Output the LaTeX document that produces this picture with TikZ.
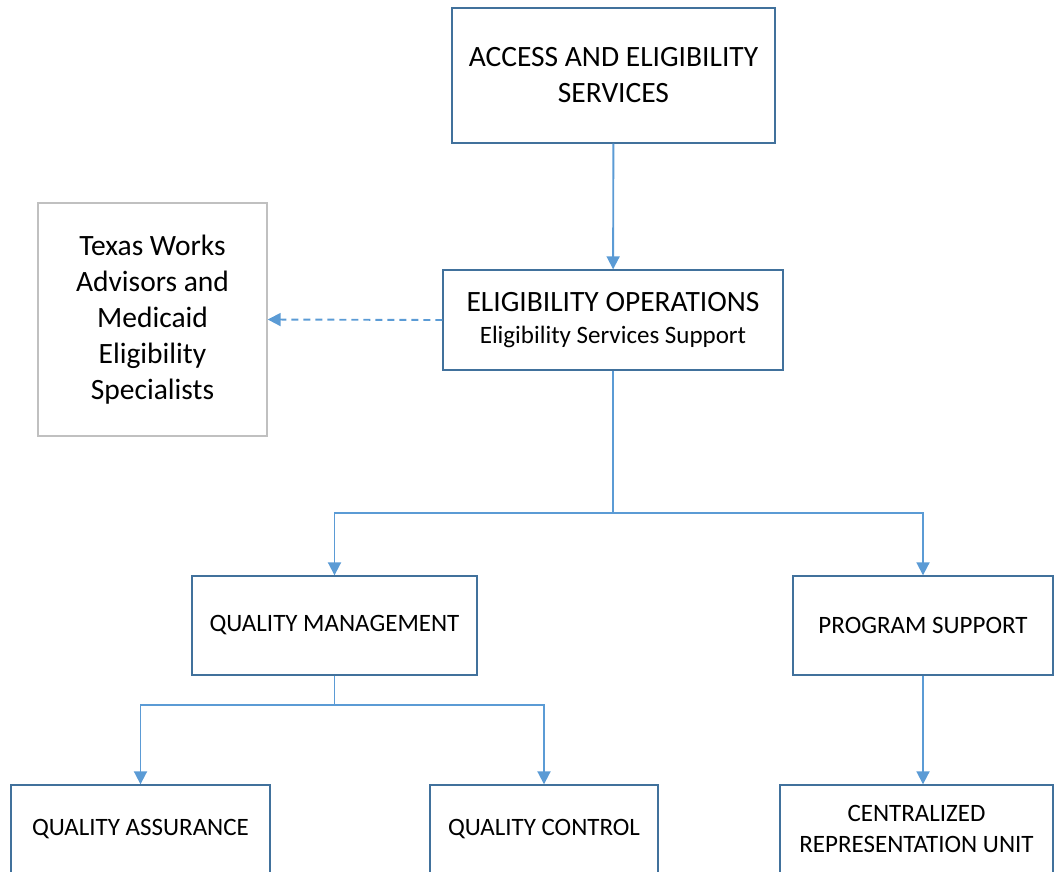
\documentclass[tikz,border=0pt]{standalone}
\usepackage{fontspec}
\setmainfont{Carlito}
\usetikzlibrary{arrows.meta,positioning}
\definecolor{boxline}{HTML}{41719C}
\definecolor{linkblue}{HTML}{5B9BD5}
\definecolor{softgray}{HTML}{C0C0C0}

\begin{document}
\begin{tikzpicture}[x=1pt,y=-1pt,
  unit/.style={draw=boxline,line width=1.4pt,align=center,inner sep=0pt},
  side/.style={draw=softgray,line width=1.4pt,align=center,inner sep=0pt},
  link/.style={draw=linkblue,line width=1.9pt,-{Triangle[length=13pt,width=13pt]}},
  big/.style={font=\fontsize{29.5}{36}\selectfont},
  small/.style={font=\fontsize{25}{31}\selectfont}]
  \useasboundingbox (0,0) rectangle (1056,871);
  \clip (0,0) rectangle (1056,871);

  \node[unit,big,minimum width=323pt,minimum height=135pt] (aes)  at (613.5,75.5) {ACCESS AND ELIGIBILITY\\SERVICES};
  \node[unit,big,minimum width=340pt,minimum height=100pt] (ops)  at (613,320)
    {ELIGIBILITY OPERATIONS\\[-4pt]{\fontsize{25}{31}\selectfont Eligibility Services Support}};
  \node[side,big,minimum width=229pt,minimum height=233pt] (twa)  at (152.5,319.5)
    {Texas Works\\Advisors and\\Medicaid\\Eligibility\\Specialists};
  \node[unit,small,minimum width=285pt,minimum height=99pt] (qm)   at (334.5,625.5) {QUALITY MANAGEMENT};
  \node[unit,small,minimum width=260pt,minimum height=99pt] (ps)   at (923,625.5)   {PROGRAM SUPPORT};
  \node[unit,small,minimum width=259pt,minimum height=88pt] (qa)   at (140.5,829)   {QUALITY ASSURANCE};
  \node[unit,small,minimum width=228pt,minimum height=88pt] (qc)   at (544,829)     {QUALITY CONTROL};
  \node[unit,small,minimum width=273pt,minimum height=88pt] (cru)  at (916.5,829)   {CENTRALIZED\\REPRESENTATION UNIT};

  % forks
  \coordinate (fork1) at (613,513);
  \coordinate (fork2) at (334.5,705);

  \draw[link] (aes) -- (ops);
  \draw[link,dash pattern=on 7pt off 5pt] (ops.west) -- (twa.east);
  \draw[link] (ops.south) -- (fork1) -| (qm.north);
  \draw[link] (fork1) -| (ps.north);
  \draw[link] (qm.south) -- (fork2) -| (qa.north);
  \draw[link] (fork2) -| (qc.north);
  \draw[link] (ps.south) -- (ps.south |- cru.north);
\end{tikzpicture}
\end{document}
